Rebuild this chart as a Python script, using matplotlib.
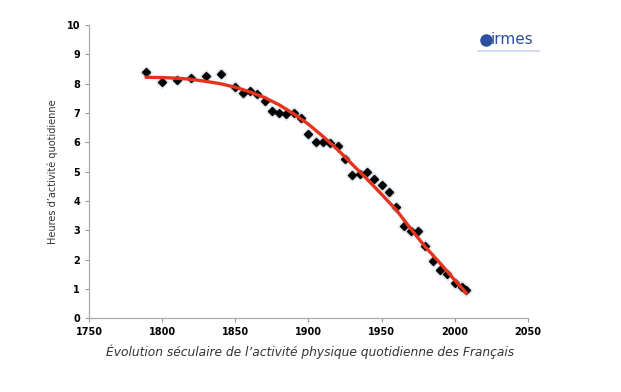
import numpy as np
import matplotlib
matplotlib.use('Agg')
import matplotlib.pyplot as plt

# observed points (year, hours of daily activity)
years = [1789, 1800, 1810, 1820, 1830, 1840, 1850, 1855, 1860, 1865,
         1870, 1875, 1880, 1885, 1890, 1895, 1900, 1905, 1910, 1915,
         1920, 1925, 1930, 1935, 1940, 1945, 1950, 1955, 1960, 1965,
         1970, 1975, 1980, 1985, 1990, 1995, 2000, 2005, 2008]
hours = [8.40, 8.05, 8.12, 8.18, 8.26, 8.32, 7.90, 7.70, 7.74, 7.66,
         7.40, 7.07, 7.00, 6.96, 7.00, 6.82, 6.27, 6.01, 6.01, 5.97,
         5.86, 5.42, 4.88, 4.92, 4.98, 4.75, 4.54, 4.30, 3.79, 3.16,
         2.99, 2.99, 2.47, 1.95, 1.65, 1.50, 1.20, 1.06, 0.96]

# trend curve
trend_years = [1789, 1800, 1810, 1820, 1830, 1840, 1850, 1860, 1870, 1880,
               1890, 1900, 1910, 1920, 1930, 1940, 1950, 1960, 1970, 1980,
               1990, 2000, 2008]
trend_hours = [8.22, 8.21, 8.19, 8.15, 8.08, 8.00, 7.88, 7.72, 7.53, 7.28,
               6.97, 6.62, 6.20, 5.75, 5.25, 4.75, 4.23, 3.70, 3.05, 2.43,
               1.88, 1.30, 0.86]

xticks = [1750, 1800, 1850, 1900, 1950, 2000, 2050]
yticks = list(range(0, 11))

fig = plt.figure(figsize=(6.21, 3.92), dpi=100)
fig.patch.set_facecolor('white')
ax = fig.add_axes([0.1433, 0.188, 0.7067, 0.748])

# soft halo behind markers
ax.plot(years, hours, linestyle='none', marker='D', markersize=6,
        color='#c8d4dc', alpha=0.5, zorder=2)
ax.plot(years, hours, linestyle='none', marker='D', markersize=4.2,
        color='black', zorder=3)
ax.plot(trend_years, trend_hours, color='#e5341d', linewidth=2.4,
        solid_capstyle='round', zorder=4)

ax.set_xlim(1750, 2050)
ax.set_ylim(0, 10)
ax.set_xticks(xticks)
ax.set_yticks(yticks)
ax.tick_params(axis='both', labelsize=7, colors='#999999', length=3,
               width=0.8, labelcolor='black')
for lab in ax.get_xticklabels() + ax.get_yticklabels():
    lab.set_fontweight('bold')
for s in ['top', 'right']:
    ax.spines[s].set_visible(False)
for s in ['left', 'bottom']:
    ax.spines[s].set_color('#aaaaaa')
    ax.spines[s].set_linewidth(0.9)

ax.set_ylabel('Heures d\u2019activité quotidienne', fontsize=7, color='#333333',
              labelpad=6)
fig.text(0.50, 0.102,
         '\u00c9volution séculaire de l\u2019activité physique quotidienne des Français',
         ha='center', va='center', fontsize=8.8, style='italic', color='#333333')

# irmes logo
fig.add_artist(plt.Line2D([0.782], [0.898], marker='o', markersize=8,
                          color='#2c4f9e', transform=fig.transFigure))
fig.text(0.790, 0.900, 'irmes', fontsize=11, color='#2c4f9e', va='center',
         ha='left')
fig.add_artist(plt.Line2D([0.770, 0.868], [0.870, 0.870], color='#c9d3ea',
                          linewidth=1.2, transform=fig.transFigure))

fig.savefig('out.png', dpi=100)
